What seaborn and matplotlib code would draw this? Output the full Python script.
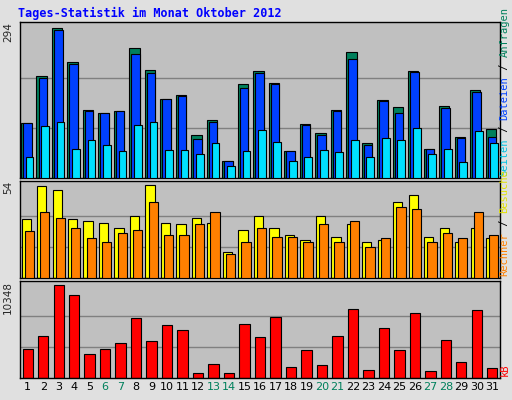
import matplotlib
matplotlib.use("Agg")
import matplotlib.pyplot as plt
import seaborn as sns
import numpy as np
import pandas as pd

days = list(range(1, 32))
hits = [108,200,294,228,134,128,132,254,212,154,162,84,114,33,184,210,186,53,106,88,134,246,69,152,140,210,57,142,81,172,96]
files = [108,196,290,224,132,128,132,244,206,154,160,77,110,33,176,206,184,53,104,84,132,234,65,150,128,208,57,138,79,168,81]
pages = [41,102,110,57,75,65,53,104,110,55,55,47,69,23,53,94,71,33,41,55,51,75,41,79,75,98,47,57,31,92,69]
visits = [34,53,51,34,33,32,29,36,54,32,31,35,32,15,28,36,29,25,22,36,24,31,21,22,44,48,24,29,21,29,23]
sites = [27,38,35,29,23,21,26,28,44,25,25,31,38,14,21,29,24,24,21,31,21,33,18,23,41,40,21,26,23,38,25]
kbytes = [3184,4662,10348,9211,2615,3184,3866,6709,4094,5913,5345,569,1592,569,6027,4549,6823,1251,3070,1478,4662,7619,910,5572,3070,7164,796,4207,1819,7505,1137]
weekend = [6,7,13,14,20,21,27,28]

sns.set_style("white")
plt.rcParams['font.family'] = ['DejaVu Sans']
fig = plt.figure(figsize=(5.12, 4.0), dpi=100, facecolor="#E0E0E0")
PANEL = "#C0C0C0"
L, W = 20/512, 480/512
ax1 = fig.add_axes([L, 1-178/400, W, 156/400])
ax2 = fig.add_axes([L, 1-278/400, W, 97/400])
ax3 = fig.add_axes([L, 1-378/400, W, 97/400])
x = np.array(days, dtype=float)
ec = dict(edgecolor="black", linewidth=0.8)

def style(ax, vmax):
    ax.set_facecolor(PANEL)
    ax.set_xlim(0.5, 31.5)
    ax.set_ylim(0, vmax*1.04)
    for f in (1/3, 2/3):
        ax.axhline(vmax*f, color="#808080", lw=1, zorder=0)
    ax.set_yticks([])
    ax.set_xticks([])
    for s in ax.spines.values():
        s.set_color("black"); s.set_linewidth(1)
    ax.text(-0.015, 1.0, str(vmax), transform=ax.transAxes, rotation=90,
            ha="right", va="top", fontsize=7.5)

ax1.bar(x-0.1, hits, width=0.67, color="#00805C", **ec, zorder=2)
ax1.bar(x-0.03, files, width=0.55, color="#0040FF", **ec, zorder=3)
ax1.bar(x+0.12, pages, width=0.5, color="#00E0FF", **ec, zorder=4)
style(ax1, 294)

ax2.bar(x-0.1, visits, width=0.6, color="#FFFF00", **ec, zorder=2)
ax2.bar(x+0.1, sites, width=0.6, color="#FF8000", **ec, zorder=3)
style(ax2, 54)

df = pd.DataFrame({"day": days, "kB": kbytes})
sns.barplot(data=df, x="day", y="kB", native_scale=True, color="#FF0000",
            saturation=1, width=0.67, edgecolor="black", linewidth=0.8, ax=ax3, zorder=2)
ax3.set_xlabel(""); ax3.set_ylabel("")
style(ax3, 10348)

for d in days:
    ax3.text(d, -0.04, str(d), transform=ax3.get_xaxis_transform(), ha="center", va="top",
             fontsize=8, color="#00805C" if d in weekend else "black")

fig.text(0.035, 0.982, "Tages-Statistik im Monat Oktober 2012", color="#0000FF",
         fontsize=8.5, fontweight="bold", family="DejaVu Sans Mono", ha="left", va="top")

fig.canvas.draw()
renderer = fig.canvas.get_renderer()

def vlabel(parts, y0_px):
    y = y0_px
    for txt, c in parts:
        t = fig.text(0.995, 1 - y/400, txt, rotation=90, color=c, fontsize=7.5,
                     family="DejaVu Sans Mono", ha="right", va="bottom")
        bb = t.get_window_extent(renderer)
        y -= bb.height
vlabel([("Seiten", "#00C0E0"), (" / ", "black"), ("Dateien", "#0040FF"), (" / ", "black"), ("Anfragen", "#00805C")], 176)
vlabel([("Rechner", "#FF8000"), (" / ", "black"), ("Besuche", "#E0E000")], 276)
vlabel([("kB", "#FF0000")], 376)

fig.savefig("out.png", dpi=100, facecolor=fig.get_facecolor())
